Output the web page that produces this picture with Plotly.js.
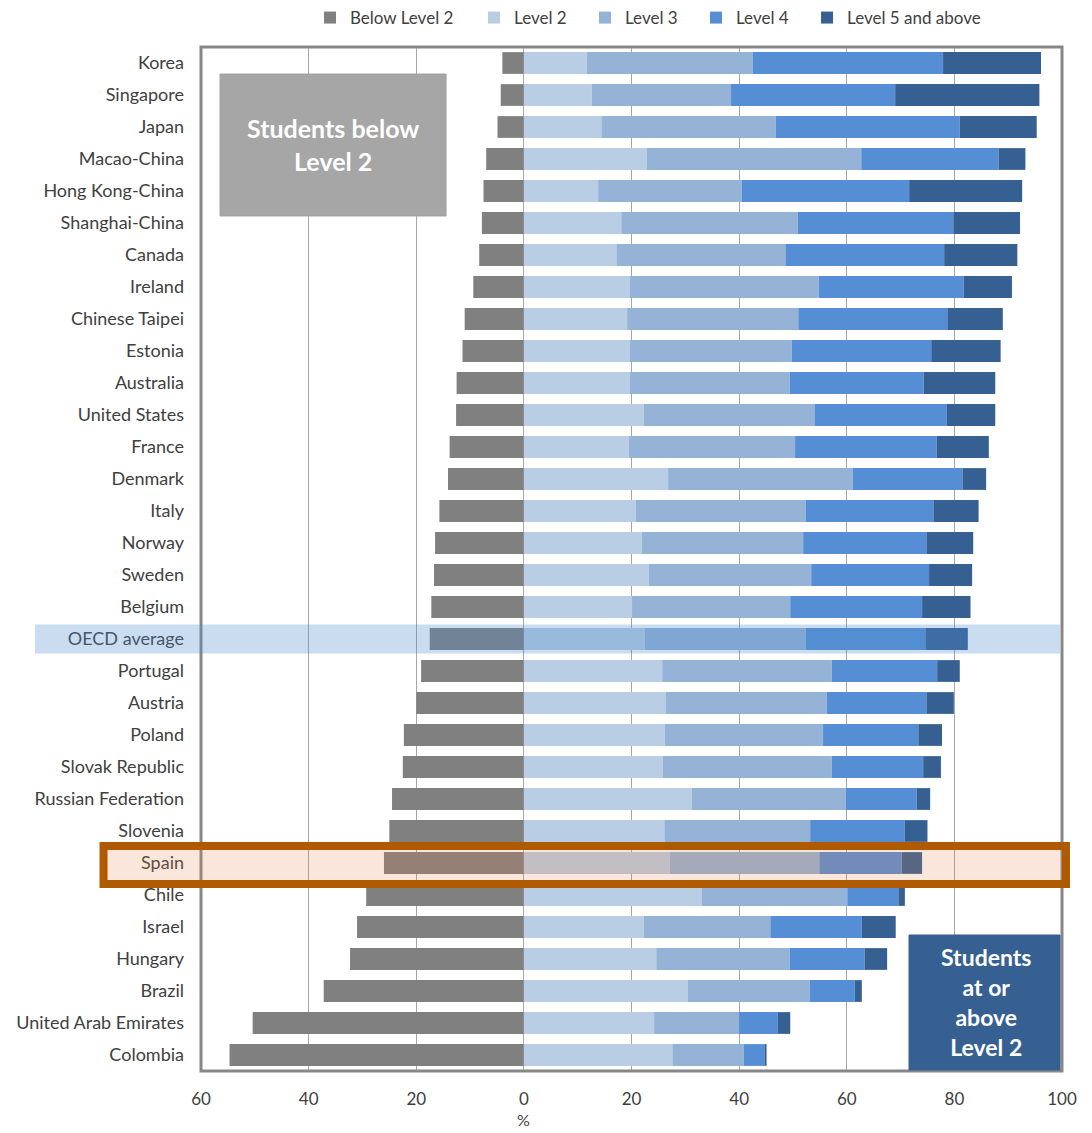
<!DOCTYPE html>
<html>
<head>
<meta charset="utf-8">
<script src="https://cdn.plot.ly/plotly-3.0.1.min.js"></script>
<style>html,body{margin:0;padding:0;background:#fff;}#chart{width:1092px;height:1133px;}</style>
</head>
<body>
<div id="chart"></div>
<script>
const countries = ["Korea","Singapore","Japan","Macao-China","Hong Kong-China","Shanghai-China","Canada","Ireland","Chinese Taipei","Estonia","Australia","United States","France","Denmark","Italy","Norway","Sweden","Belgium","OECD average","Portugal","Austria","Poland","Slovak Republic","Russian Federation","Slovenia","Spain","Chile","Israel","Hungary","Brazil","United Arab Emirates","Colombia"];

// Percentage of students below Level 2 (drawn to the left of zero)
const belowLevel2 = [4.0,4.3,4.9,7.0,7.5,7.8,8.3,9.4,11.0,11.4,12.5,12.6,13.8,14.1,15.7,16.5,16.7,17.2,17.5,19.1,20.0,22.3,22.5,24.5,25.0,26.0,29.3,31.0,32.3,37.2,50.4,54.7];
// Shares at each level (percent)
const level2 = [11.7,12.6,14.4,22.8,13.8,18.1,17.2,19.7,19.2,19.7,19.7,22.3,19.5,26.8,20.8,21.9,23.2,20.1,22.5,25.7,26.4,26.2,25.8,31.2,26.1,27.1,33.0,22.3,24.6,30.5,24.2,27.6];
const level3 = [30.8,25.9,32.4,39.9,26.7,32.8,31.4,35.1,31.8,30.1,29.7,31.7,30.9,34.3,31.6,30.0,30.2,29.4,29.9,31.5,29.9,29.4,31.4,28.6,27.1,27.8,27.1,23.5,24.8,22.6,15.8,13.3];
const level4 = [35.4,30.5,34.2,25.5,31.1,28.9,29.5,26.9,27.7,25.9,24.9,24.6,26.3,20.4,23.7,22.9,21.9,24.5,22.2,19.6,18.5,17.7,17.0,13.2,17.6,15.3,9.5,17.0,13.9,8.4,7.2,3.8];
const level5 = [18.2,26.8,14.3,5.0,21.0,12.4,13.6,9.0,10.3,12.9,13.3,9.0,9.7,4.4,8.4,8.7,8.0,9.0,7.9,4.2,5.1,4.4,3.3,2.5,4.2,3.8,1.2,6.3,4.2,1.3,2.3,0.4];

const seriesNames = ["Below Level 2","Level 2","Level 3","Level 4","Level 5 and above"];
const seriesColors = ["#808080","#b9cde4","#95b3d7","#558ed5","#366092"];
const xTickVals = [-60,-40,-20,0,20,40,60,80,100];
const xTickText = ["60","40","20","0","20","40","60","80","100"];

const FONT = "Lato, 'Open Sans', sans-serif";
const values = [belowLevel2.map(v => -v), level2, level3, level4, level5];
const legendIds = ["legend","legend2","legend3","legend4","legend5"];
const legendX = [0.1266, 0.3171, 0.4460, 0.5749, 0.7039];

const traces = values.map((vals, i) => ({
  type: "bar",
  orientation: "h",
  name: seriesNames[i],
  legend: legendIds[i],
  y: countries,
  x: vals,
  marker: {color: seriesColors[i], line: {width: 0}},
  hoverinfo: "skip"
}));

const oecdIdx = countries.indexOf("OECD average");
const spainIdx = countries.indexOf("Spain");

const layout = {
  width: 1092,
  height: 1133,
  margin: {l: 201, r: 30, t: 47, b: 62, autoexpand: false},
  paper_bgcolor: "#ffffff",
  plot_bgcolor: "#ffffff",
  barmode: "relative",
  bargap: 0.32,
  font: {family: FONT, size: 17, color: "#404040"},
  showlegend: true,
  xaxis: {
    range: [-60, 100],
    tickvals: xTickVals,
    ticktext: xTickText,
    showgrid: true,
    gridcolor: "#a6a6a6",
    gridwidth: 1,
    zeroline: true,
    zerolinecolor: "#a6a6a6",
    zerolinewidth: 1,
    ticks: "",
    ticklabelstandoff: 16,
    tickfont: {family: FONT, size: 17, color: "#404040"},
    showline: false
  },
  yaxis: {
    type: "category",
    categoryorder: "array",
    categoryarray: countries,
    range: [countries.length - 0.5, -0.5],
    ticks: "",
    ticklabelstandoff: 16,
    tickfont: {family: FONT, size: 18, color: "#404040"},
    showgrid: false,
    zeroline: false,
    showline: false
  },
  shapes: [
    {type: "rect", xref: "paper", yref: "paper", x0: 0, x1: 1, y0: 0, y1: 1,
     line: {color: "#878787", width: 3}, fillcolor: "rgba(0,0,0,0)", layer: "above"},
    {type: "rect", xref: "paper", yref: "y", x0: -0.1928, x1: 0.9977,
     y0: oecdIdx - 0.45, y1: oecdIdx + 0.45,
     line: {width: 0}, fillcolor: "rgba(78,138,205,0.3)", layer: "above"},
    {type: "rect", xref: "paper", yref: "y", x0: -0.1132, x1: 1.0046,
     y0: spainIdx - 0.53, y1: spainIdx + 0.66,
     line: {color: "#b05a00", width: 8}, fillcolor: "rgba(230,130,70,0.2)", layer: "above"},
    {type: "rect", xref: "paper", yref: "paper", x0: 0.0221, x1: 0.2846, y0: 0.835, y1: 0.9736,
     line: {color: "#a0a0a0", width: 1}, fillcolor: "#a6a6a6", layer: "above"},
    {type: "rect", xref: "paper", yref: "paper", x0: 0.8223, x1: 0.9977, y0: 0.001, y1: 0.1328,
     line: {color: "#366092", width: 1}, fillcolor: "#366092", layer: "above"}
  ],
  annotations: [
    {xref: "paper", yref: "paper", x: 0.1533, y: 0.9043, xanchor: "center", yanchor: "middle",
     text: "<b>Students below<br>Level 2</b>", showarrow: false,
     font: {family: FONT, size: 25, color: "#ffffff"}},
    {xref: "paper", yref: "paper", x: 0.9117, y: 0.0674, xanchor: "center", yanchor: "middle",
     text: "<b>Students<br>at or<br>above<br>Level 2</b>", showarrow: false,
     font: {family: FONT, size: 23, color: "#ffffff"}},
    {xref: "x", yref: "paper", x: 0, y: -0.0478, xanchor: "center", yanchor: "middle",
     text: "%", showarrow: false, font: {family: FONT, size: 16, color: "#404040"}}
  ]
};

legendIds.forEach((id, i) => {
  layout[id] = {
    orientation: "h",
    x: legendX[i], xanchor: "left",
    y: 1.0283, yanchor: "middle",
    font: {family: FONT, size: 17, color: "#404040"},
    bgcolor: "rgba(0,0,0,0)",
    borderwidth: 0,
    itemwidth: 30
  };
});

Plotly.newPlot("chart", traces, layout, {displayModeBar: false, staticPlot: true});
</script>
</body>
</html>
